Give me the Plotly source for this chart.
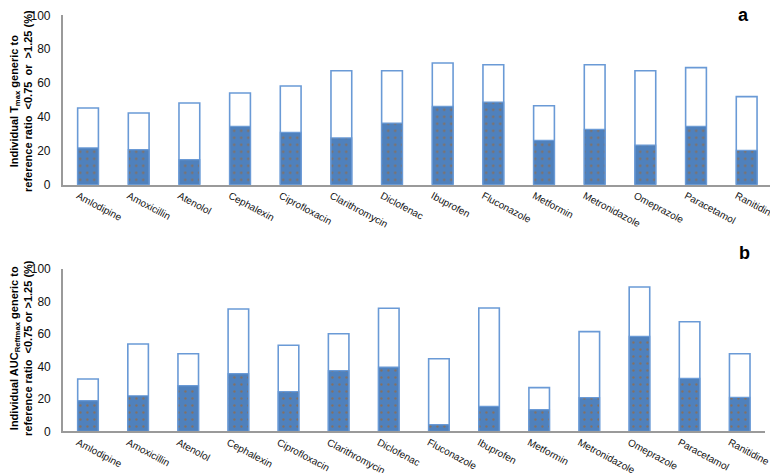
import plotly.graph_objects as go

W, H = 778, 473

drugs_a = ["Amlodipine", "Amoxicillin", "Atenolol", "Cephalexin", "Ciprofloxacin",
           "Clarithromycin", "Diclofenac", "Ibuprofen", "Fluconazole", "Metformin",
           "Metronidazole", "Omeprazole", "Paracetamol", "Ranitidine"]
total_a = [45.3, 42.3, 48.2, 54.1, 58.3, 67.3, 67.3, 71.8, 70.8, 46.6, 70.8, 67.3, 69.1, 52.0]
inner_a = [21.7, 20.7, 14.8, 34.5, 30.9, 27.6, 36.4, 46.3, 48.8, 26.2, 32.7, 23.4, 34.5, 20.3]

drugs_b = ["Amlodipine", "Amoxicillin", "Atenolol", "Cephalexin", "Ciprofloxacin",
           "Clarithromycin", "Diclofenac", "Fluconazole", "Ibuprofen", "Metformin",
           "Metronidazole", "Omeprazole", "Paracetamol", "Ranitidine"]
total_b = [32.2, 53.8, 47.8, 75.4, 53.0, 60.1, 75.8, 44.7, 76.0, 26.9, 61.4, 88.9, 67.5, 47.8]
inner_b = [18.9, 21.9, 28.1, 35.5, 24.4, 37.4, 39.6, 4.1, 15.4, 13.3, 20.7, 58.5, 32.6, 20.9]

y_ticks = [0, 20, 40, 60, 80, 100]

BLUE = "#4F81BD"
EDGE = "#6A9AD6"

fig = go.Figure()

def add_panel(cats, tot, inn, xa, ya):
    fig.add_trace(go.Bar(x=cats, y=tot, xaxis=xa, yaxis=ya,
                         marker=dict(color="white", line=dict(color=EDGE, width=1.6)),
                         showlegend=False, hoverinfo="skip"))
    fig.add_trace(go.Bar(x=cats, y=inn, xaxis=xa, yaxis=ya,
                         marker=dict(color=BLUE, line=dict(color=EDGE, width=1.2),
                                     pattern=dict(shape=".", bgcolor=BLUE, fgcolor="#9a6a3a",
                                                  fgopacity=0.7, size=7, solidity=0.09)),
                         showlegend=False, hoverinfo="skip"))

add_panel(drugs_a, total_a, inner_a, "x", "y")
add_panel(drugs_b, total_b, inner_b, "x2", "y2")

def px_x(p):
    return p / W

def px_y(p):
    return (H - p) / H

xcommon = dict(showgrid=False, showline=True, linecolor="#9a9a9a", linewidth=1.5,
               ticks="", tickangle=28, automargin=False, ticklabelshift=-10,
               tickfont=dict(family="Liberation Sans", size=10, color="#111"))
ycommon = dict(showgrid=False, showline=True, linecolor="#9a9a9a", linewidth=1.5,
               range=[0, 100], tickvals=y_ticks, ticks="", zeroline=False, automargin=False,
               ticklabelstandoff=8,
               tickfont=dict(family="Liberation Sans", size=12, color="#111"))

fig.update_layout(
    width=W, height=H, template="none",
    paper_bgcolor="white", plot_bgcolor="white",
    margin=dict(l=0, r=0, t=0, b=0),
    barmode="overlay", bargap=0.59,
    xaxis=dict(domain=[px_x(54.7), px_x(764)], anchor="y", **xcommon),
    yaxis=dict(domain=[px_y(176.7), px_y(7.3)], anchor="x", **ycommon),
    xaxis2=dict(domain=[px_x(54.9), px_x(756.8)], anchor="y2", **xcommon),
    yaxis2=dict(domain=[px_y(423.3), px_y(261)], anchor="x2", **ycommon),
)

title_font = dict(family="Liberation Sans", size=11, color="#000")
fig.add_annotation(
    text="<b>Individual T<sub>max</sub> generic to<br>reference ratio \u00a0<0.75 \u00a0or \u00a0>1.25 (%)</b>",
    xref="paper", yref="paper", x=px_x(13), y=px_y(93), textangle=-90,
    showarrow=False, font=title_font, xanchor="center", yanchor="middle")
fig.add_annotation(
    text="<b>Individual AUC<sub>Reftmax</sub> generic to<br>reference ratio \u00a0<0.75 or >1.25 (%)</b>",
    xref="paper", yref="paper", x=px_x(13), y=px_y(340), textangle=-90,
    showarrow=False, font=title_font, xanchor="center", yanchor="middle")

fig.add_annotation(text="<b>a</b>", xref="paper", yref="paper", x=px_x(735), y=1,
                   yshift=5, showarrow=False,
                   font=dict(family="Liberation Sans", size=18, color="#000"),
                   xanchor="center", yanchor="top")
fig.add_annotation(text="<b>b</b>", xref="paper", yref="paper", x=px_x(736), y=px_y(245),
                   showarrow=False, font=dict(family="Liberation Sans", size=18, color="#000"),
                   xanchor="center", yanchor="middle")

fig.write_html("out.html")
